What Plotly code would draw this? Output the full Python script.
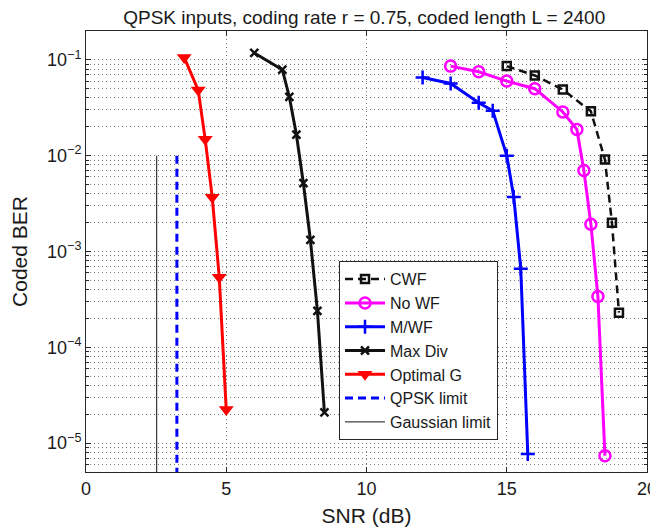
import plotly.graph_objects as go

# SNR (dB) / coded BER values
cwf_snr = [15, 16, 17, 18, 18.5, 18.75, 19]
cwf_ber = [0.086, 0.0687, 0.049, 0.029, 0.0091, 0.0020, 2.3e-4]

nowf_snr = [13, 14, 15, 16, 17, 17.5, 17.75, 18, 18.25, 18.5]
nowf_ber = [0.086, 0.075, 0.060, 0.050, 0.0286, 0.0188, 0.0070, 0.00192, 3.4e-4, 7.4e-6]

mwf_snr = [12, 13, 14, 14.5, 15, 15.25, 15.5, 15.75]
mwf_ber = [0.0655, 0.0567, 0.0357, 0.0295, 0.0100, 0.0037, 6.6e-4, 7.7e-6]

maxdiv_snr = [6, 7, 7.25, 7.5, 7.75, 8, 8.25, 8.5]
maxdiv_ber = [0.118, 0.079, 0.041, 0.0166, 0.00516, 0.00132, 2.4e-4, 2.09e-5]

optg_snr = [3.5, 4, 4.25, 4.5, 4.75, 5]
optg_ber = [0.106, 0.0484, 0.0148, 0.00369, 5.4e-4, 2.24e-5]

qpsk_limit_snr = [3.24, 3.24]
gauss_limit_snr = [2.52, 2.52]
limit_ber = [1e-2, 5e-6]

x_ticks = [0, 5, 10, 15, 20]
y_ticks = [1e-5, 1e-4, 1e-3, 1e-2, 1e-1]
y_ticktext = ['10<sup>\u22125</sup>', '10<sup>\u22124</sup>', '10<sup>\u22123</sup>',
              '10<sup>\u22122</sup>', '10<sup>\u22121</sup>']
y_minor = [k * 10.0 ** e for e in range(-6, 0) for k in range(2, 10)]

FONT = 'Liberation Sans, Arial, sans-serif'
AXIS_COLOR = '#262626'
GRID_COLOR = '#7a7a7a'
GRID_DASH = '1px,3px'

fig = go.Figure()

fig.add_trace(go.Scatter(
    x=cwf_snr, y=cwf_ber, name='CWF', mode='lines+markers',
    line=dict(color='#111111', width=2.5, dash='8px,5px'),
    marker=dict(symbol='square-open', size=8, color='#111111', line=dict(width=2.5))
))
fig.add_trace(go.Scatter(
    x=nowf_snr, y=nowf_ber, name='No WF', mode='lines+markers',
    line=dict(color='#ff00ff', width=3),
    marker=dict(symbol='circle-open', size=11, color='#ff00ff', line=dict(width=2.5))
))
fig.add_trace(go.Scatter(
    x=mwf_snr, y=mwf_ber, name='M/WF', mode='lines+markers',
    line=dict(color='#0000ff', width=3),
    marker=dict(symbol='cross-thin', size=10, color='#0000ff', line=dict(width=2.5, color='#0000ff'))
))
fig.add_trace(go.Scatter(
    x=maxdiv_snr, y=maxdiv_ber, name='Max Div', mode='lines+markers',
    line=dict(color='#111111', width=3),
    marker=dict(symbol='x-thin', size=8, color='#111111', line=dict(width=2.5, color='#111111'))
))
fig.add_trace(go.Scatter(
    x=optg_snr, y=optg_ber, name='Optimal G', mode='lines+markers',
    line=dict(color='#ff0000', width=3),
    marker=dict(symbol='triangle-down', size=13, color='#ff0000')
))
fig.add_trace(go.Scatter(
    x=qpsk_limit_snr, y=limit_ber, name='QPSK limit', mode='lines',
    line=dict(color='#0000ff', width=3, dash='8px,5px')
))
fig.add_trace(go.Scatter(
    x=gauss_limit_snr, y=limit_ber, name='Gaussian limit', mode='lines',
    line=dict(color='#111111', width=1)
))

# page body keeps an 8px margin, so the figure is 8px smaller than the window
fig.update_layout(
    width=650, height=523,
    margin=dict(l=78, r=11, t=23, b=59),
    paper_bgcolor='white', plot_bgcolor='white',
    font=dict(family=FONT, size=17, color='#1a1a1a'),
    title=dict(text='QPSK inputs, coding rate r = 0.75, coded length L = 2400',
               x=0.548, xanchor='center', y=0.983, yanchor='middle',
               font=dict(family=FONT, size=19, color='#1a1a1a')),
    showlegend=True,
    legend=dict(x=0.451, y=0.478, xanchor='left', yanchor='top',
                bgcolor='white', bordercolor=AXIS_COLOR, borderwidth=1,
                font=dict(family=FONT, size=16, color='#1a1a1a'),
                tracegroupgap=0, itemwidth=40)
)

fig.update_xaxes(
    range=[0, 20], tickvals=x_ticks, ticks='inside', ticklen=5,
    tickcolor=AXIS_COLOR, showline=True, linecolor=AXIS_COLOR, linewidth=1,
    mirror='ticks', showgrid=True, gridcolor=GRID_COLOR, griddash=GRID_DASH, gridwidth=1,
    zeroline=False, tickfont=dict(size=18), automargin=False,
    title=dict(text='SNR (dB)', font=dict(size=21), standoff=10)
)

fig.update_yaxes(
    type='log', range=[-5.301, -0.699],
    tickvals=y_ticks, ticktext=y_ticktext, ticks='inside', ticklen=5,
    tickcolor=AXIS_COLOR, showline=True, linecolor=AXIS_COLOR, linewidth=1,
    mirror='ticks', showgrid=True, gridcolor=GRID_COLOR, griddash=GRID_DASH, gridwidth=1,
    zeroline=False, tickfont=dict(size=18), automargin=False,
    minor=dict(tickmode='array', tickvals=y_minor, ticks='inside', ticklen=3,
               tickcolor=AXIS_COLOR, showgrid=True, gridcolor=GRID_COLOR,
               griddash=GRID_DASH, gridwidth=1),
    title=dict(text='Coded BER', font=dict(size=21), standoff=18)
)

fig.write_html("out.html")
